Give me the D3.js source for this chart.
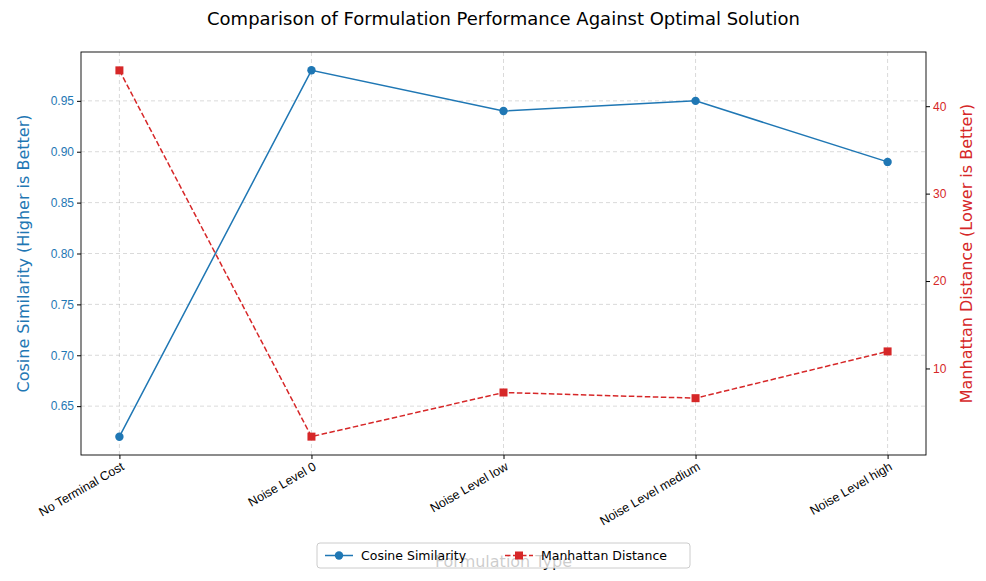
<!DOCTYPE html>
<html>
<head>
<meta charset="utf-8">
<script src="https://cdn.jsdelivr.net/npm/d3@7"></script>
<style>
  body { margin: 0; background: #fff; font-family: "DejaVu Sans", sans-serif; }
</style>
</head>
<body>
<svg id="chart" width="986" height="581"></svg>
<script>
// Chart data
const categories = ['No Terminal Cost', 'Noise Level 0', 'Noise Level low', 'Noise Level medium', 'Noise Level high'];
const cosineValues = [0.62, 0.98, 0.94, 0.95, 0.89];
const manhattanValues = [44.1, 2.2, 7.25, 6.6, 11.95];
const leftTicks = [0.65, 0.70, 0.75, 0.80, 0.85, 0.90, 0.95];
const rightTicks = [10, 20, 30, 40];

const blue = '#1f77b4', red = '#d62728';
const margin = { top: 52, right: 60, bottom: 126, left: 81 };
const width = 986, height = 581;
const svg = d3.select('#chart');
const innerW = width - margin.left - margin.right;
const innerH = height - margin.top - margin.bottom;
const g = svg.append('g').attr('transform', `translate(${margin.left},${margin.top})`);

// Scales
const x = d3.scaleLinear().domain([-0.2, categories.length - 0.8]).range([0, innerW]);
const yL = d3.scaleLinear().domain([0.602, 0.998]).range([innerH, 0]);
const yR = d3.scaleLinear().domain([0.1, 46.2]).range([innerH, 0]);

// Grid
const grid = g.append('g').attr('stroke', '#b0b0b0').attr('stroke-opacity', 0.6)
  .attr('stroke-dasharray', '4,3').attr('stroke-width', 0.8);
categories.forEach((c, i) => grid.append('line').attr('x1', x(i)).attr('x2', x(i)).attr('y1', 0).attr('y2', innerH));
leftTicks.forEach(t => grid.append('line').attr('x1', 0).attr('x2', innerW).attr('y1', yL(t)).attr('y2', yL(t)));

// Lines
const lineL = d3.line().x((d, i) => x(i)).y(d => yL(d));
const lineR = d3.line().x((d, i) => x(i)).y(d => yR(d));
g.append('path').datum(cosineValues).attr('d', lineL).attr('fill', 'none').attr('stroke', blue).attr('stroke-width', 1.5);
g.selectAll('.dotL').data(cosineValues).enter().append('circle')
  .attr('cx', (d, i) => x(i)).attr('cy', d => yL(d)).attr('r', 4.2).attr('fill', blue);
g.append('path').datum(manhattanValues).attr('d', lineR).attr('fill', 'none').attr('stroke', red)
  .attr('stroke-width', 1.5).attr('stroke-dasharray', '5.5,2.5');
g.selectAll('.dotR').data(manhattanValues).enter().append('rect')
  .attr('x', (d, i) => x(i) - 4).attr('y', d => yR(d) - 4).attr('width', 8).attr('height', 8).attr('fill', red);

// Frame
g.append('rect').attr('width', innerW).attr('height', innerH).attr('fill', 'none').attr('stroke', '#000').attr('stroke-width', 0.9);

// Axes
const xAxis = g.append('g').attr('transform', `translate(0,${innerH})`)
  .call(d3.axisBottom(x).tickValues(d3.range(categories.length)).tickFormat(i => categories[i]).tickSizeOuter(0).tickSize(4));
xAxis.select('.domain').remove();
xAxis.selectAll('text').attr('font-size', 12.5).attr('fill', '#000')
  .attr('text-anchor', 'end').attr('x', 0).attr('y', 0).attr('dy', 0)
  .attr('transform', 'translate(5,14) rotate(-30)');

const axL = g.append('g').call(d3.axisLeft(yL).tickValues(leftTicks).tickFormat(d3.format('.2f')).tickSize(4));
axL.select('.domain').remove();
axL.selectAll('text').attr('font-size', 12).attr('fill', blue);

const axR = g.append('g').attr('transform', `translate(${innerW},0)`)
  .call(d3.axisRight(yR).tickValues(rightTicks).tickSize(4));
axR.select('.domain').remove();
axR.selectAll('text').attr('font-size', 12).attr('fill', red);

// Titles
svg.append('text').attr('x', margin.left + innerW / 2).attr('y', 25).attr('text-anchor', 'middle')
  .attr('font-size', 18).text('Comparison of Formulation Performance Against Optimal Solution');
svg.append('text').attr('transform', `translate(29,${margin.top + innerH / 2}) rotate(-90)`)
  .attr('text-anchor', 'middle').attr('font-size', 16).attr('fill', blue).text('Cosine Similarity (Higher is Better)');
svg.append('text').attr('transform', `translate(972,${margin.top + innerH / 2}) rotate(-90)`)
  .attr('text-anchor', 'middle').attr('font-size', 16).attr('fill', red).text('Manhattan Distance (Lower is Better)');
svg.append('text').attr('x', margin.left + innerW / 2).attr('y', 567).attr('text-anchor', 'middle')
  .attr('font-size', 16).text('Formulation Type');

// Legend
const lg = svg.append('g').attr('transform', 'translate(317,543)');
lg.append('rect').attr('width', 373).attr('height', 25).attr('rx', 3).attr('fill', '#fff').attr('fill-opacity', 0.8)
  .attr('stroke', '#ccc');
lg.append('line').attr('x1', 8).attr('x2', 36).attr('y1', 12.5).attr('y2', 12.5).attr('stroke', blue).attr('stroke-width', 1.5);
lg.append('circle').attr('cx', 22).attr('cy', 12.5).attr('r', 4.2).attr('fill', blue);
lg.append('text').attr('x', 44).attr('y', 17).attr('font-size', 12.5).text('Cosine Similarity');
lg.append('line').attr('x1', 188).attr('x2', 216).attr('y1', 12.5).attr('y2', 12.5).attr('stroke', red)
  .attr('stroke-width', 1.5).attr('stroke-dasharray', '5.5,2.5');
lg.append('rect').attr('x', 198).attr('y', 8.5).attr('width', 8).attr('height', 8).attr('fill', red);
lg.append('text').attr('x', 224).attr('y', 17).attr('font-size', 12.5).text('Manhattan Distance');
</script>
</body>
</html>
